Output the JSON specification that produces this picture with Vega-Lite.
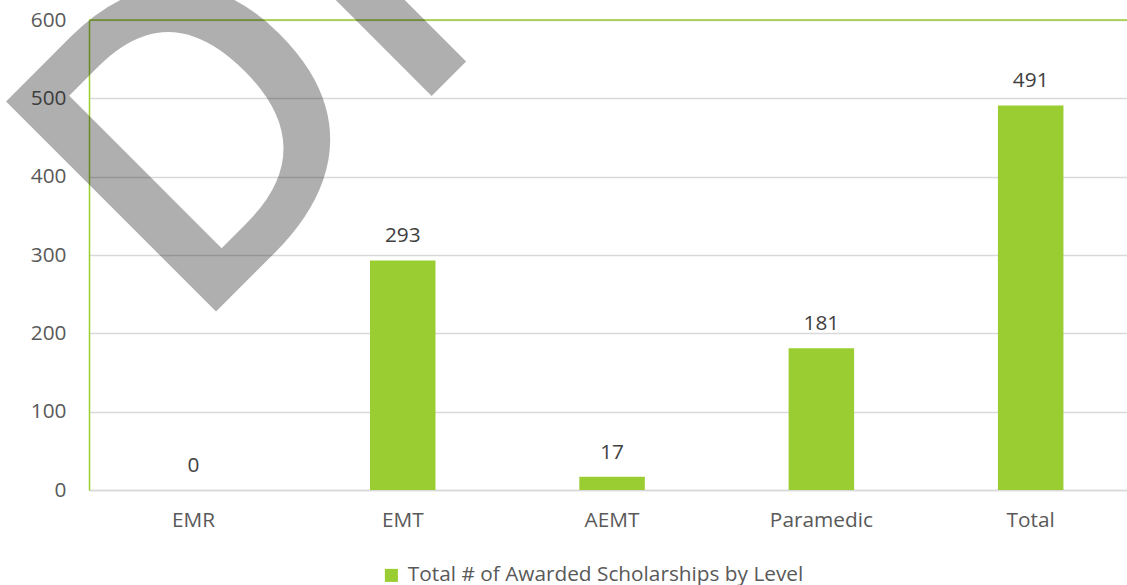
{
  "$schema": "https://vega.github.io/schema/vega-lite/v6.json",
  "width": 1038,
  "height": 470,
  "autosize": {"type": "none"},
  "padding": {"left": 89, "top": 20, "right": 0, "bottom": 95},
  "background": "white",
  "config": {"view": {"stroke": null}, "font": "Open Sans"},
  "data": {
    "values": [
      {"level": "EMR", "count": 0},
      {"level": "EMT", "count": 293},
      {"level": "AEMT", "count": 17},
      {"level": "Paramedic", "count": 181},
      {"level": "Total", "count": 491}
    ]
  },
  "encoding": {
    "x": {
      "field": "level",
      "type": "nominal",
      "sort": null,
      "scale": {"paddingInner": 0.687, "paddingOuter": 0.323, "align": 0.53},
      "axis": {
        "title": null,
        "labelAngle": 0,
        "labelFontSize": 20.8,
        "labelColor": "#595959",
        "labelPadding": 20,
        "ticks": false,
        "domainColor": "#d9d9d9",
        "domainWidth": 1.5
      }
    },
    "y": {
      "field": "count",
      "type": "quantitative",
      "scale": {"domain": [0, 600], "nice": false},
      "axis": {
        "title": null,
        "values": [0, 100, 200, 300, 400, 500, 600],
        "labelFontSize": 20.8,
        "labelColor": "#595959",
        "labelPadding": 23,
        "ticks": false,
        "domainColor": "#9ACD32",
        "domainWidth": 1.5,
        "gridColor": "#d9d9d9",
        "gridWidth": 1.5
      }
    }
  },
  "layer": [
    {
      "mark": {"type": "bar"},
      "encoding": {
        "color": {
          "datum": "Total # of Awarded Scholarships by Level",
          "scale": {"range": ["#9ACD32"]},
          "legend": {
            "orient": "none",
            "legendX": 292,
            "legendY": 545,
            "title": null,
            "symbolType": "square",
            "symbolSize": 170,
            "symbolStrokeWidth": 0,
            "labelFontSize": 20.8,
            "labelColor": "#595959",
            "labelOffset": 6,
            "labelLimit": 0
          }
        }
      }
    },
    {
      "mark": {"type": "text", "baseline": "alphabetic", "dy": -18, "fontSize": 20.8, "color": "#404040"},
      "encoding": {"text": {"field": "count", "type": "quantitative"}}
    },
    {
      "transform": [{"filter": "datum.level == 'EMR'"}],
      "mark": {"type": "rule", "color": "#9ACD32", "strokeWidth": 1.5},
      "encoding": {"y": {"datum": 600}, "x": {"value": 0}, "x2": {"value": 1038}}
    },
    {
      "transform": [{"filter": "datum.level == 'EMR'"}],
      "mark": {
        "type": "text",
        "text": "DRAFT",
        "font": "Open Sans",
        "fontSize": 416,
        "fontWeight": 600,
        "angle": -45,
        "align": "left",
        "baseline": "alphabetic",
        "fill": "#000000",
        "opacity": 0.31,
        "dx": -7
      },
      "encoding": {"x": {"datum": "EMR"}, "y": {"datum": 199}}
    }
  ]
}
